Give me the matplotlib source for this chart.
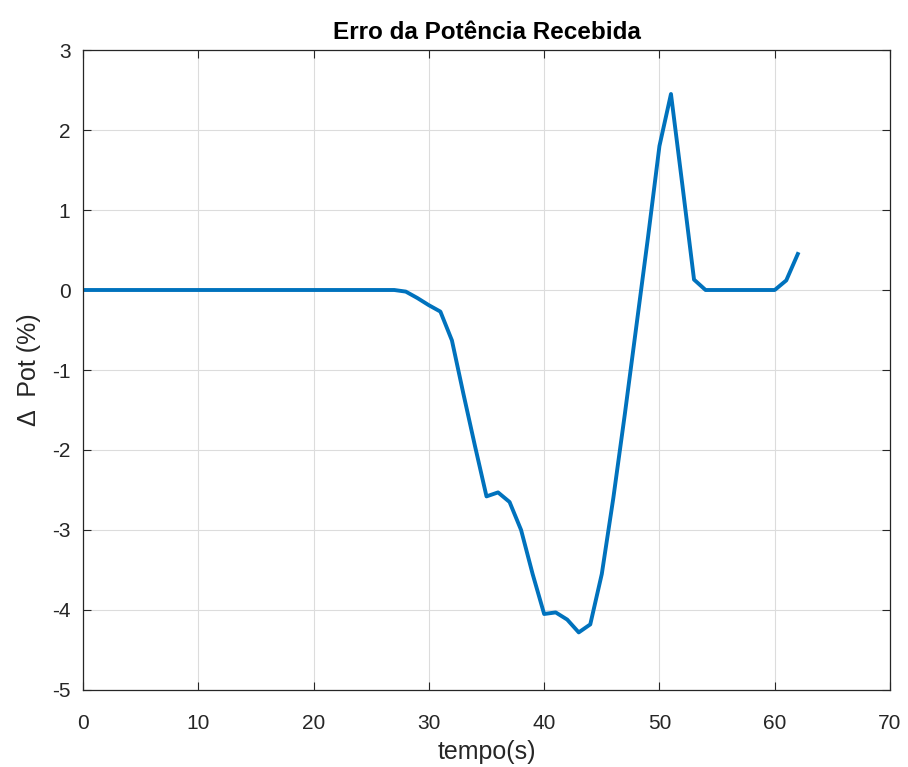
import matplotlib.pyplot as plt
import numpy as np

plt.rcParams['font.family'] = ['Liberation Sans', 'DejaVu Sans']
plt.rcParams['axes.unicode_minus'] = False

# erro da potência recebida, amostrado a cada segundo
tempo = np.arange(0, 63)
erro_pot = [0.0] * 28 + [
    -0.02, -0.10, -0.19, -0.27, -0.63, -1.30, -1.95, -2.58, -2.53, -2.65,
    -3.00, -3.55, -4.05, -4.03, -4.12, -4.28, -4.18, -3.55, -2.60, -1.55,
    -0.45, 0.65, 1.80, 2.45, 1.30, 0.13, 0.00, 0.00, 0.00, 0.00,
    0.00, 0.00, 0.00, 0.12, 0.45,
]

xticks = np.arange(0, 71, 10)
yticks = np.arange(-5, 4, 1)

fig = plt.figure(figsize=(9.08, 7.67), dpi=100)
ax = fig.add_axes([0.0914, 0.1004, 0.8888, 0.8344])

ax.plot(tempo, erro_pot, color='#0072BD', linewidth=2.8)

ax.set_xlim(0, 70)
ax.set_ylim(-5, 3)
ax.set_xticks(xticks)
ax.set_yticks(yticks)
ax.grid(True, color='#DCDCDC', linewidth=0.8)
ax.set_axisbelow(True)

ax.tick_params(direction='in', length=6, width=0.8, colors='#262626',
               top=True, right=True, labelsize=15)
ax.tick_params(axis='x', pad=17)
ax.tick_params(axis='y', pad=9)
for s in ax.spines.values():
    s.set_color('#262626')
    s.set_linewidth(0.9)

ax.set_title('Erro da Potência Recebida', fontsize=17.5, fontweight='bold', pad=8)
ax.set_xlabel('tempo(s)', fontsize=18, labelpad=5, color='#262626')
ax.set_ylabel('Δ  Pot (%)', fontsize=18, labelpad=8, color='#262626')

fig.savefig('out.png', dpi=100, facecolor='white')
